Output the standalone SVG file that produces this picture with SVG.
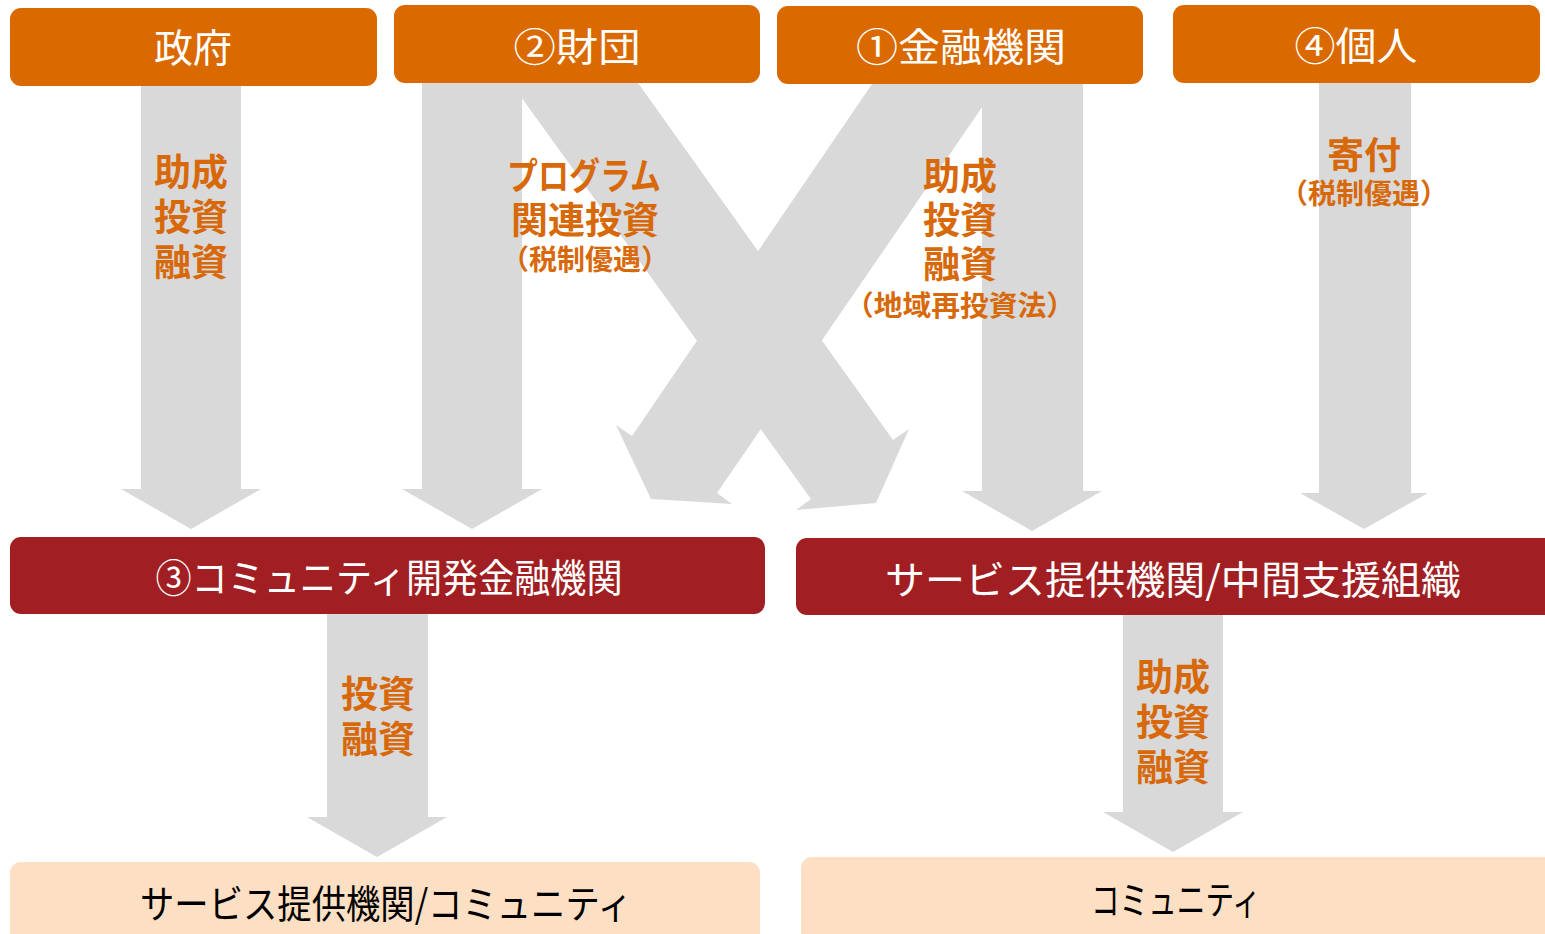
<svg xmlns="http://www.w3.org/2000/svg" width="1545" height="934" viewBox="0 0 1545 934">
<style>
.arrow{fill:#D9D9D9;stroke:none}
.src{fill:#DA6A00}
.mid{fill:#A11F22}
.dst{fill:#FDDFC4}
.t{font-family:"Noto Sans CJK JP","Noto Sans",sans-serif;text-anchor:middle}
.tw{fill:#FFFFFF;font-size:39px}
.tb{fill:#000000;font-size:39px}
.lb{fill:#D8690B;font-weight:bold;font-size:37px}
.ls{font-size:28px}
</style>
<rect width="1545" height="934" fill="#FFFFFF"/>
<g id="connectors">
  <polygon class="arrow" points="141,86 241,86 241,489 261,489 191,529 121,489 141,489"/>
  <polygon class="arrow" points="422,83 522,83 522,489 542,489 472,529 402,489 422,489"/>
  <polygon class="arrow" points="982,84 1083,84 1083,491 1102,491 1032,531 962,491 982,491"/>
  <polygon class="arrow" points="1319,83 1411,83 1411,493 1428,493 1364,529 1300,493 1319,493"/>
  <polygon class="arrow" points="511,83 638,83 893,440 909,429 876,503 796,510 811,499"/>
  <polygon class="arrow" points="872,84 998,84 717,493 732,504 651,499 616,425 632,436"/>
  <polygon class="arrow" points="327,614 428,614 428,817 447,817 377,857 307,817 327,817"/>
  <polygon class="arrow" points="1123,615 1223,615 1223,812 1243,812 1173,852 1103,812 1123,812"/>
  <text id="label-gov" class="t lb" x="191" y="186">助成<tspan x="191" dy="45">投資</tspan><tspan x="191" dy="45">融資</tspan></text>
  <text id="label-found" class="t lb" x="584" y="190"><tspan textLength="154" lengthAdjust="spacingAndGlyphs">プログラム</tspan><tspan x="585" dy="44">関連投資</tspan><tspan class="ls" x="585" dy="36">（税制優遇）</tspan></text>
  <text id="label-bank" class="t lb" x="960" y="190">助成<tspan x="960" dy="44">投資</tspan><tspan x="960" dy="44">融資</tspan><tspan class="ls" x="960" dy="38" textLength="230" lengthAdjust="spacingAndGlyphs">（地域再投資法）</tspan></text>
  <text id="label-indiv" class="t lb" x="1364" y="169">寄付<tspan class="ls" x="1364" dy="35">（税制優遇）</tspan></text>
  <text id="label-cdfi" class="t lb" x="378" y="708">投資<tspan x="378" dy="45">融資</tspan></text>
  <text id="label-svc" class="t lb" x="1173" y="691">助成<tspan x="1173" dy="45">投資</tspan><tspan x="1173" dy="45">融資</tspan></text>
</g>
<g id="node-gov">
  <rect class="src" x="10" y="8" width="367" height="78" rx="11"/>
  <text class="t tw" x="193" y="62">政府</text>
</g>
<g id="node-foundation">
  <rect class="src" x="394" y="5" width="366" height="78" rx="11"/>
  <text class="t tw" x="577" y="61" textLength="127" lengthAdjust="spacingAndGlyphs">②財団</text>
</g>
<g id="node-bank">
  <rect class="src" x="777" y="6" width="366" height="78" rx="11"/>
  <text class="t tw" x="961" y="61" textLength="210" lengthAdjust="spacingAndGlyphs">①金融機関</text>
</g>
<g id="node-individual">
  <rect class="src" x="1173" y="5" width="367" height="78" rx="11"/>
  <text class="t tw" x="1356" y="60" textLength="123" lengthAdjust="spacingAndGlyphs">④個人</text>
</g>
<g id="node-cdfi">
  <rect class="mid" x="10" y="537" width="755" height="77" rx="11"/>
  <text class="t tw" x="389" y="592" textLength="467" lengthAdjust="spacingAndGlyphs">③コミュニティ開発金融機関</text>
</g>
<g id="node-service">
  <rect class="mid" x="796" y="538" width="760" height="77" rx="11"/>
  <text class="t tw" x="1173" y="594" textLength="576" lengthAdjust="spacingAndGlyphs">サービス提供機関/中間支援組織</text>
</g>
<g id="node-service-community">
  <rect class="dst" x="10" y="862" width="750" height="90" rx="11"/>
  <text class="t tb" x="386" y="918" textLength="492" lengthAdjust="spacingAndGlyphs">サービス提供機関/コミュニティ</text>
</g>
<g id="node-community">
  <rect class="dst" x="801" y="857" width="760" height="95" rx="11"/>
  <text class="t tb" x="1176" y="914" textLength="170" lengthAdjust="spacingAndGlyphs">コミュニティ</text>
</g>
</svg>
